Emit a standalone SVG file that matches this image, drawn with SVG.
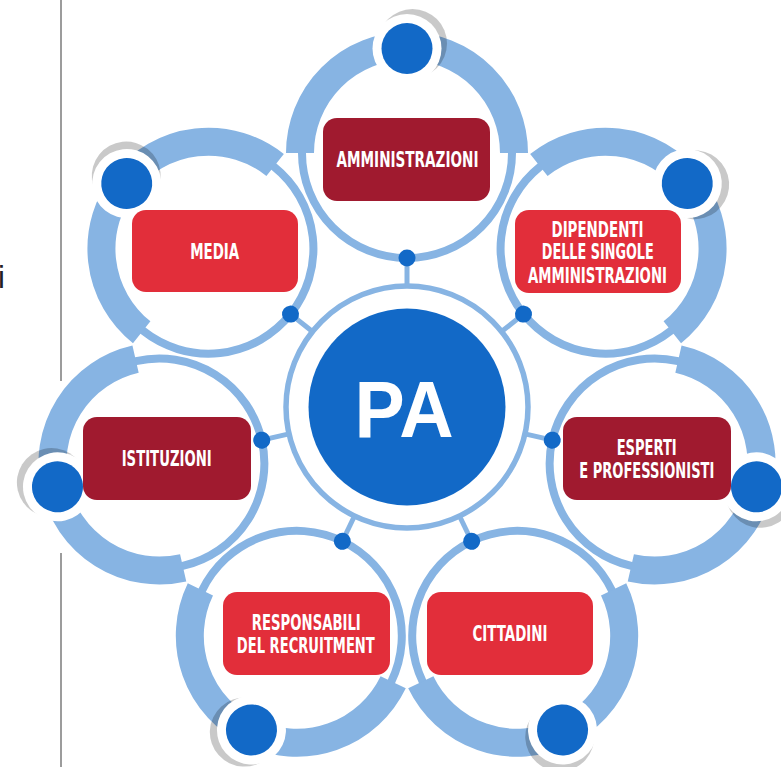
<svg xmlns="http://www.w3.org/2000/svg" xmlns:xlink="http://www.w3.org/1999/xlink" width="781" height="767" viewBox="0 0 781 767">
  <style>
    .ring{fill:none;stroke:#87B4E3;stroke-width:8}
    .arc{fill:none;stroke:#87B4E3;stroke-width:28;stroke-linecap:butt}
    .shadow{fill:#000;fill-opacity:0.21}
    .halo{fill:#fff}
    .dot{fill:#1269C7}
    .dark{fill:#A01A2F}
    .red{fill:#E22E3A}
    .lbl{fill:#fff;font-family:'Liberation Sans Narrow','DejaVu Sans Condensed','Liberation Sans',Arial,sans-serif;font-weight:bold;font-size:20.5px;text-anchor:middle}
    .conn{stroke:#87B4E3;stroke-width:5}
  </style>
  <defs>
    <g id="sat">
      <circle class="ring" cx="0" cy="-254" r="105"/>
      <path class="arc" d="M -107,-254 A 107 107 0 0 1 107,-254"/>
      <circle class="shadow" cx="5.5" cy="-363.5" r="34.5"/>
      <circle class="halo" cx="0" cy="-358.5" r="34.5"/>
      <circle class="dot" cx="0" cy="-358.5" r="25.5"/>
    </g>
    <g id="link">
      <line class="conn" x1="0" y1="-121" x2="0" y2="-149"/>
      <circle class="dot" cx="0" cy="-149" r="8.5"/>
    </g>
  </defs>
  <rect x="0" y="0" width="781" height="767" fill="#fff"/>

  <g id="sidebar">
    <line x1="61" y1="0" x2="61" y2="381" stroke="#9C9C9C" stroke-width="2"/>
    <line x1="61" y1="553" x2="61" y2="767" stroke="#9C9C9C" stroke-width="2"/>
    <text x="-2" y="288" font-family="'Liberation Sans',Arial,sans-serif" font-size="31" fill="#222">i</text>
  </g>

  <g id="node-pa">
    <circle cx="407" cy="407" r="121" fill="none" stroke="#87B4E3" stroke-width="5.5"/>
    <circle cx="407" cy="407" r="98.5" fill="#1269C7"/>
    <text x="404" y="437" font-family="'Liberation Sans',Arial,sans-serif" font-weight="bold" font-size="80" fill="#fff" text-anchor="middle" textLength="99" lengthAdjust="spacingAndGlyphs">PA</text>
  </g>

  <g id="node-amministrazioni">
    <use href="#sat" xlink:href="#sat" transform="translate(407,407) rotate(0)"/>
    <rect class="dark" x="323" y="118" width="167" height="83" rx="14"/>
    <text class="lbl" x="407.5" y="167" textLength="142" lengthAdjust="spacingAndGlyphs">AMMINISTRAZIONI</text>
  </g>

  <g id="node-dipendenti">
    <use href="#sat" xlink:href="#sat" transform="translate(407,407) rotate(51.4286)"/>
    <rect class="red" x="515" y="210" width="166" height="83" rx="14"/>
    <text class="lbl" x="597.5" y="236.7" textLength="92" lengthAdjust="spacingAndGlyphs">DIPENDENTI</text>
    <text class="lbl" x="597.8" y="259.3" textLength="112" lengthAdjust="spacingAndGlyphs">DELLE SINGOLE</text>
    <text class="lbl" x="597.5" y="282.7" textLength="139" lengthAdjust="spacingAndGlyphs">AMMINISTRAZIONI</text>
  </g>

  <g id="node-esperti">
    <use href="#sat" xlink:href="#sat" transform="translate(407,407) rotate(102.857)"/>
    <rect class="dark" x="563" y="417" width="168" height="83" rx="14"/>
    <text class="lbl" x="646.7" y="455" textLength="60" lengthAdjust="spacingAndGlyphs">ESPERTI</text>
    <text class="lbl" x="646.8" y="478.3" textLength="135" lengthAdjust="spacingAndGlyphs">E PROFESSIONISTI</text>
  </g>

  <g id="node-cittadini">
    <use href="#sat" xlink:href="#sat" transform="translate(407,407) rotate(154.286)"/>
    <rect class="red" x="427" y="592" width="166" height="83" rx="14"/>
    <text class="lbl" x="510" y="640.7" textLength="75" lengthAdjust="spacingAndGlyphs">CITTADINI</text>
  </g>

  <g id="node-responsabili">
    <use href="#sat" xlink:href="#sat" transform="translate(407,407) rotate(205.714)"/>
    <rect class="red" x="223" y="592" width="167" height="83" rx="14"/>
    <text class="lbl" x="306.3" y="630" textLength="109" lengthAdjust="spacingAndGlyphs">RESPONSABILI</text>
    <text class="lbl" x="305.8" y="653.3" textLength="138" lengthAdjust="spacingAndGlyphs">DEL RECRUITMENT</text>
  </g>

  <g id="node-istituzioni">
    <use href="#sat" xlink:href="#sat" transform="translate(407,407) rotate(257.143)"/>
    <rect class="dark" x="83" y="417" width="168" height="83" rx="14"/>
    <text class="lbl" x="166.7" y="466" textLength="90" lengthAdjust="spacingAndGlyphs">ISTITUZIONI</text>
  </g>

  <g id="node-media">
    <use href="#sat" xlink:href="#sat" transform="translate(407,407) rotate(308.571)"/>
    <rect class="red" x="132" y="210" width="166" height="82" rx="14"/>
    <text class="lbl" x="214.7" y="259.3" textLength="49" lengthAdjust="spacingAndGlyphs">MEDIA</text>
  </g>

  <g id="connectors">
    <use href="#link" xlink:href="#link" transform="translate(407,407) rotate(0)"/>
    <use href="#link" xlink:href="#link" transform="translate(407,407) rotate(51.4286)"/>
    <use href="#link" xlink:href="#link" transform="translate(407,407) rotate(102.857)"/>
    <use href="#link" xlink:href="#link" transform="translate(407,407) rotate(154.286)"/>
    <use href="#link" xlink:href="#link" transform="translate(407,407) rotate(205.714)"/>
    <use href="#link" xlink:href="#link" transform="translate(407,407) rotate(257.143)"/>
    <use href="#link" xlink:href="#link" transform="translate(407,407) rotate(308.571)"/>
  </g>
</svg>
